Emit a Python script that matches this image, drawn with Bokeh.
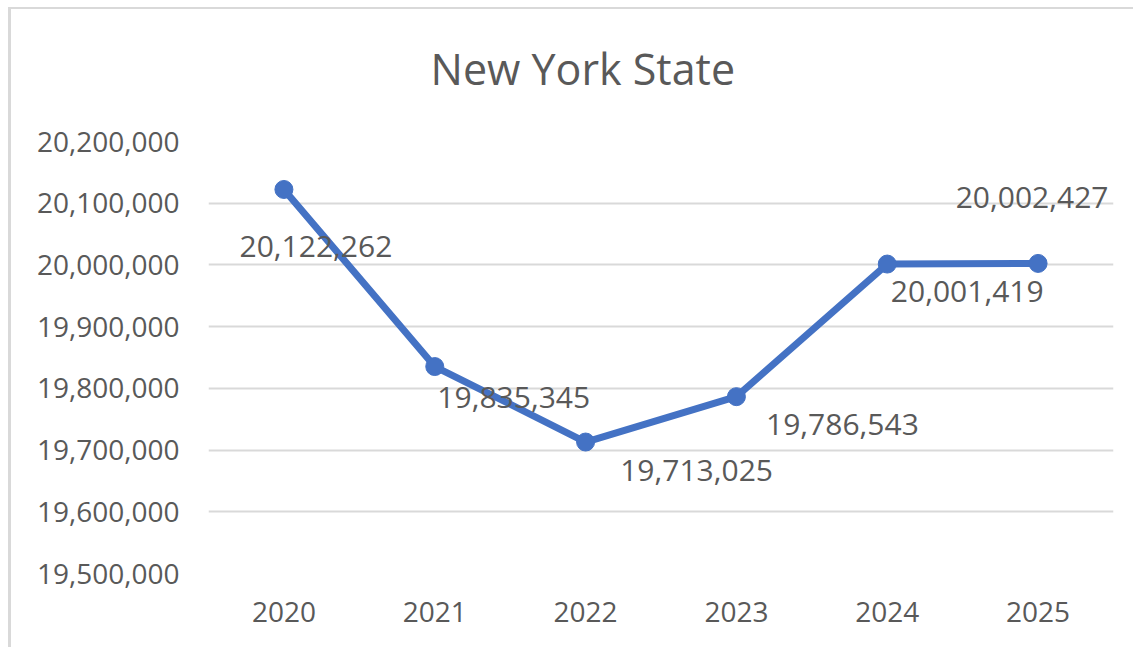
from bokeh.plotting import figure
from bokeh.models import ColumnDataSource, FactorRange, Range1d, FixedTicker, NumeralTickFormatter, Title
from bokeh.core.properties import value
from bokeh.embed import file_html
from bokeh.resources import INLINE

# ---- data ----
years = ["2020", "2021", "2022", "2023", "2024", "2025"]
population = [20122262, 19835345, 19713025, 19786543, 20001419, 20002427]
y_ticks = [19500000, 19600000, 19700000, 19800000, 19900000, 20000000, 20100000, 20200000]
chart_title = "New York State"

# ---- label placement (screen pixel offsets, style only) ----
label_dx = [32, 79, 111, 106, 80, -6]
label_dy = [57, 31, 28, 28, 27, -66]

FONT = value("Open Sans")
TEXT = "#595959"
BLUE = "#4472C4"
GRID = "#D9D9D9"

src = ColumnDataSource(dict(
    year=years,
    pop=population,
    label=[f"{v:,}" for v in population],
    dx=label_dx,
    dy=label_dy,
))

p = figure(
    width=1125, height=640,
    x_range=FactorRange(*years, range_padding=0),
    y_range=Range1d(y_ticks[0], y_ticks[-1]),
    output_backend="svg", toolbar_location=None,
    min_border_left=197, min_border_right=23, min_border_top=132, min_border_bottom=76,
)
p.styles = {"margin-left": "8px", "margin-top": "7px",
            "border-left": "3px solid #d9d9d9", "border-top": "2px solid #d9d9d9"}
p.outline_line_color = None
p.background_fill_color = "white"
p.border_fill_color = "white"

# spacer between frame and title, then the title itself
spacer = Title(text=" ", text_font_size="10px", standoff=31)
p.add_layout(spacer, "above")
title = Title(text=chart_title, align="left", offset=222, standoff=0,
              text_font="Open Sans", text_font_size="43px", text_font_style="normal",
              text_color=TEXT)
p.add_layout(title, "above")

# axes
p.yaxis.ticker = FixedTicker(ticks=y_ticks)
p.yaxis.formatter = NumeralTickFormatter(format="0,0")
for ax in (p.xaxis[0], p.yaxis[0]):
    ax.axis_line_color = None
    ax.major_tick_line_color = None
    ax.minor_tick_line_color = None
    ax.major_tick_out = 0
    ax.major_tick_in = 0
    ax.minor_tick_out = 0
    ax.major_label_text_font = "Open Sans"
    ax.major_label_text_font_size = "28px"
    ax.major_label_text_color = TEXT
p.yaxis.major_label_standoff = 29
p.xaxis.major_label_standoff = 28

p.xgrid.grid_line_color = None
p.ygrid.ticker = FixedTicker(ticks=y_ticks[1:])
p.ygrid.grid_line_color = GRID
p.ygrid.grid_line_width = 2

p.line(x="year", y="pop", source=src, line_color=BLUE, line_width=7, line_join="round")
p.scatter(x="year", y="pop", source=src, size=18, fill_color=BLUE, line_color=BLUE)
p.text(x="year", y="pop", text="label", source=src, x_offset="dx", y_offset="dy",
       text_align="center", text_baseline="middle", text_font=FONT,
       text_font_size="30px", text_color=TEXT)

open("out.html", "w").write(file_html(p, INLINE))
